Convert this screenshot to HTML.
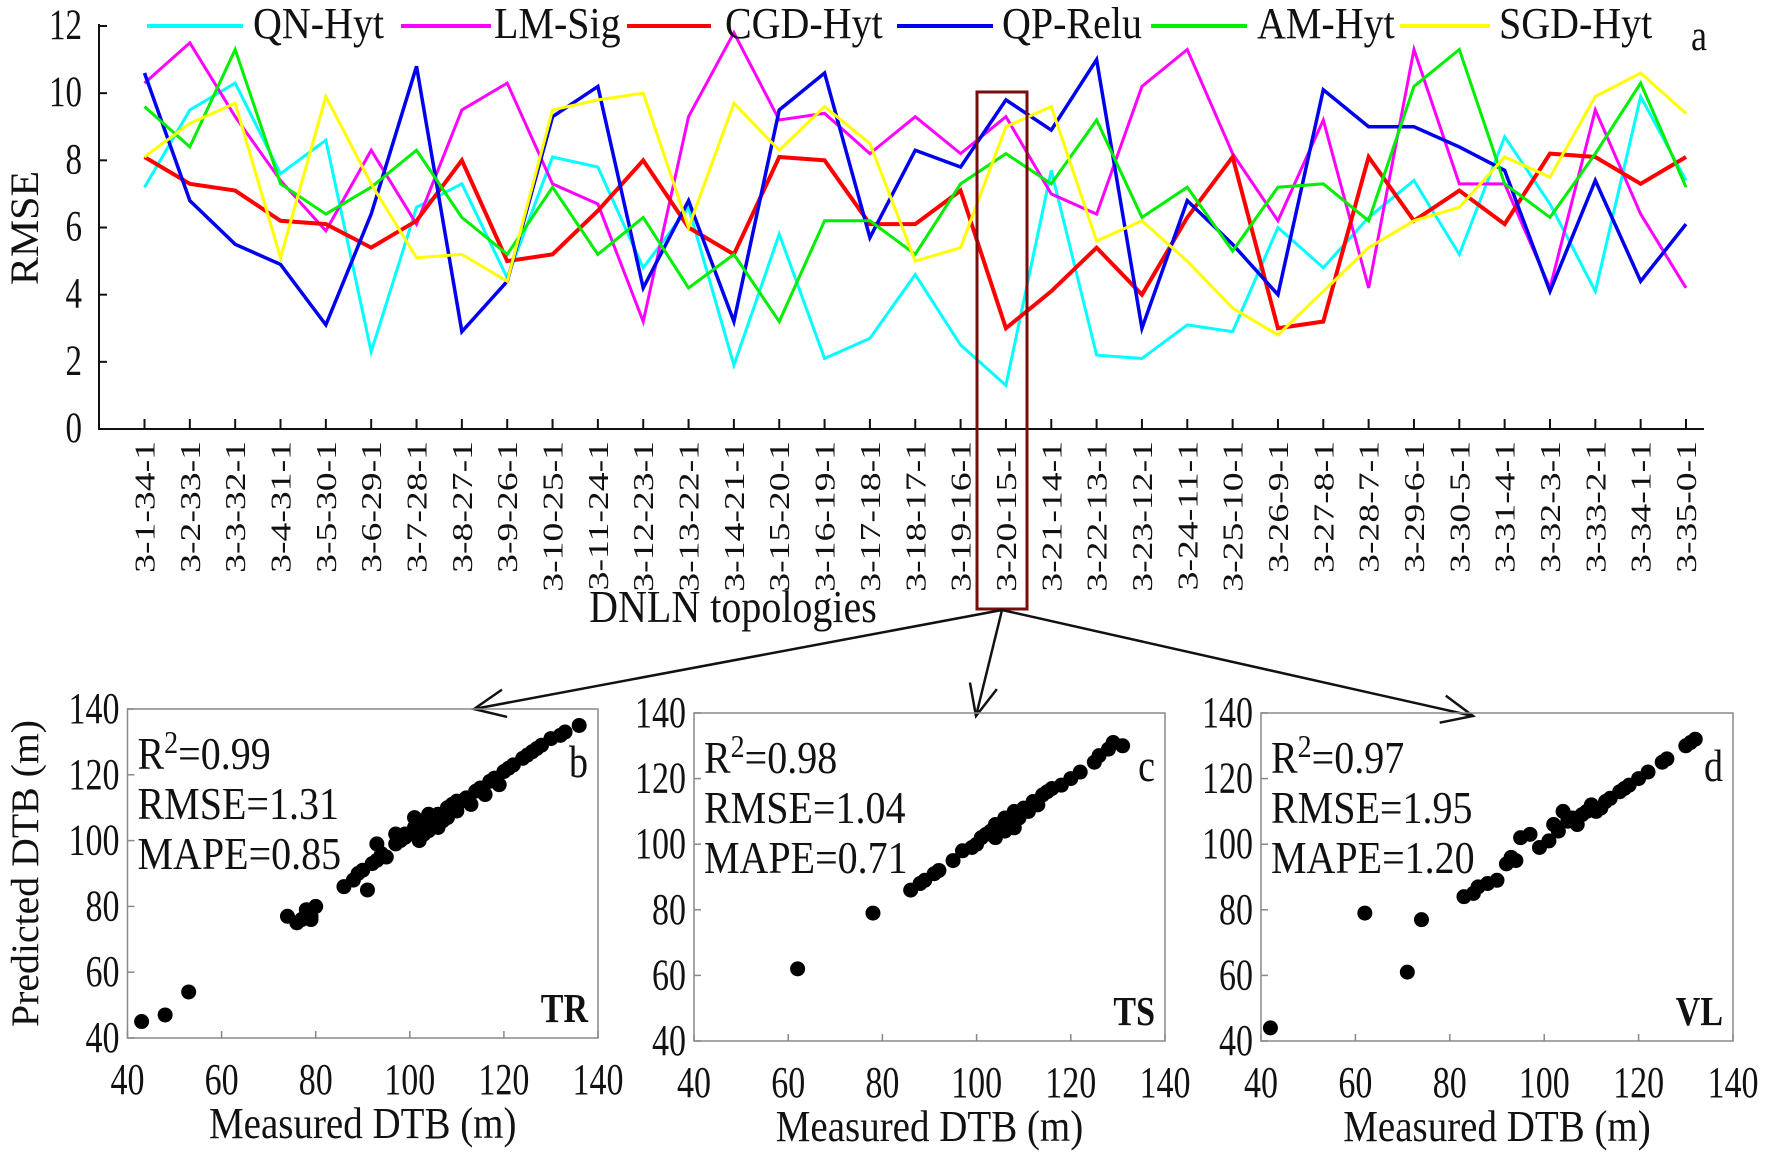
<!DOCTYPE html>
<html><head><meta charset="utf-8"><style>
html,body{margin:0;padding:0;background:#fff}
svg{display:block}
text{font-family:"Liberation Serif",serif;fill:#111}
</style></head><body>
<svg id="fig" width="1770" height="1161" viewBox="0 0 1770 1161" xmlns="http://www.w3.org/2000/svg">
<g id="topchart"></g>
<g id="sc"></g>
</svg>
<script>
const categories = ["3-1-34-1","3-2-33-1","3-3-32-1","3-4-31-1","3-5-30-1","3-6-29-1","3-7-28-1","3-8-27-1","3-9-26-1","3-10-25-1","3-11-24-1","3-12-23-1","3-13-22-1","3-14-21-1","3-15-20-1","3-16-19-1","3-17-18-1","3-18-17-1","3-19-16-1","3-20-15-1","3-21-14-1","3-22-13-1","3-23-12-1","3-24-11-1","3-25-10-1","3-26-9-1","3-27-8-1","3-28-7-1","3-29-6-1","3-30-5-1","3-31-4-1","3-32-3-1","3-33-2-1","3-34-1-1","3-35-0-1"];
const seriesNames = ["QN-Hyt","LM-Sig","CGD-Hyt","QP-Relu","AM-Hyt","SGD-Hyt"];
const qnHyt = [7.2,9.5,10.3,7.6,8.6,2.3,6.6,7.3,4.5,8.1,7.8,4.8,6.6,1.9,5.8,2.1,2.7,4.6,2.5,1.3,7.7,2.2,2.1,3.1,2.9,6.0,4.8,6.3,7.4,5.2,8.7,6.7,4.1,9.9,7.4];
const lmSig = [10.3,11.5,9.3,7.4,5.9,8.3,6.1,9.5,10.3,7.3,6.7,3.2,9.3,11.8,9.2,9.4,8.2,9.3,8.2,9.3,7.0,6.4,10.2,11.3,8.2,6.2,9.2,4.2,11.3,7.3,7.3,4.2,9.5,6.4,4.2];
const cgdHyt = [8.1,7.3,7.1,6.2,6.1,5.4,6.2,8.0,5.0,5.2,6.5,8.0,6.0,5.2,8.1,8.0,6.1,6.1,7.1,3.0,4.1,5.4,4.0,6.3,8.1,3.0,3.2,8.1,6.2,7.1,6.1,8.2,8.1,7.3,8.1];
const qpRelu = [10.6,6.8,5.5,4.9,3.1,6.4,10.8,2.9,4.4,9.3,10.2,4.2,6.8,3.2,9.5,10.6,5.7,8.3,7.8,9.8,8.9,11.0,3.0,6.8,5.5,4.0,10.1,9.0,9.0,8.4,7.7,4.1,7.4,4.4,6.1];
const amHyt = [9.6,8.4,11.3,7.3,6.4,7.2,8.3,6.3,5.2,7.2,5.2,6.3,4.2,5.2,3.2,6.2,6.2,5.2,7.3,8.2,7.3,9.2,6.3,7.2,5.3,7.2,7.3,6.2,10.2,11.3,7.3,6.3,8.2,10.3,7.2];
const sgdHyt = [8.1,9.1,9.7,5.1,9.9,7.3,5.1,5.2,4.4,9.5,9.8,10.0,6.0,9.7,8.3,9.6,8.5,5.0,5.4,9.0,9.6,5.6,6.2,5.0,3.6,2.8,4.1,5.4,6.2,6.6,8.1,7.5,9.9,10.6,9.4];
const yTicks = [0,2,4,6,8,10,12];
const scTicks = [40,60,80,100,120,140];
const trMeasured = [43,48,53,74,76,77,78,79,80,79,86,88,89,91,90,92,93,94,95,97,98,99,100,101,102,103,104,105,106,107,108,109,110,111,112,113,114,115,116,117,118,119,120,121,122,124,125,126,127,128,130,132,133,136,102,104,106,108,110,103,101,99,97,93];
const trPredicted = [45,47,54,77,75,76,79,76,80,77,86,88,90,85,91,93,94,96,95,99,100,102,102,104,105,106,103,107,108,106,110,111,109,112,113,111,115,116,114,118,119,117,121,122,123,125,126,127,128,129,131,132,133,135,100,108,104,107,112,102,107,101,102,99];
const tsMeasured = [62,78,86,88,89,91,92,95,97,99,100,101,102,103,104,105,106,107,108,109,110,111,112,113,114,115,116,118,120,122,125,126,128,129,131,104,106,108];
const tsPredicted = [62,79,86,88,89,91,92,95,98,99,100,102,103,104,106,105,108,107,110,108,111,110,113,112,115,116,117,118,120,122,125,127,129,131,130,102,104,105];
const vlMeasured = [42,62,71,74,83,85,86,88,90,92,93,94,95,97,99,101,102,103,104,105,106,107,108,109,110,111,112,113,114,116,117,118,120,122,125,126,130,131,132];
const vlPredicted = [44,79,61,77,84,85,87,88,89,94,96,95,102,103,99,101,106,104,110,107,108,106,109,110,112,110,111,113,114,116,117,118,120,122,125,126,130,131,132];

const NS="http://www.w3.org/2000/svg";
function mk(tag,parent,attrs){const e=document.createElementNS(NS,tag);for(const k in attrs)e.setAttribute(k,attrs[k]);parent.appendChild(e);return e;}
function txt(parent,x,y,str,size,anchor,sx,sy,rot,bold){
  const t=mk('text',parent,{x:0,y:0,'font-size':size,'text-anchor':anchor||'start',transform:`translate(${x},${y}) rotate(${rot||0}) scale(${sx||1},${sy||1})`});
  if(bold)t.setAttribute('font-weight','bold');
  t.textContent=str;return t;
}

const topG=document.getElementById('topchart');
const X0=144.5,X1=1686,Y0=429,Y12=26;
const xs=i=>X0+(X1-X0)*i/(categories.length-1);
const ys=v=>Y0+(Y12-Y0)*v/12;
const colors=["#00ffff","#ff00ff","#ff0000","#0000ee","#00ee00","#ffff00"];
const widths=[3,3,4,3.5,3,3];
const data=[qnHyt,lmSig,cgdHyt,qpRelu,amHyt,sgdHyt];
let ax=mk('path',topG,{d:`M99,${Y12-2} V${Y0} H1704`,stroke:'#111','stroke-width':2,fill:'none'});


yTicks.forEach(t=>{
  const l=mk('line',topG,{x1:99,x2:107,y1:ys(t),y2:ys(t),stroke:'#111','stroke-width':2});
  
  
  const tx=txt(topG,82,ys(t)+13,String(t),33,'end',1,1.3);
  
  
});
categories.forEach((c,i)=>{
  const l=mk('line',topG,{x1:xs(i),x2:xs(i),y1:Y0,y2:Y0-10,stroke:'#111','stroke-width':2});
  
  
  const tx=txt(topG,xs(i)+10,Y0+12,c,29,'end',1.3,1,-90);
  
  
});
let t1=txt(topG,38,228,'RMSE',40,'middle',1.05,1,-90);


let t2=txt(topG,733,622,'DNLN topologies',40,'middle',1,1.15);


data.forEach((arr,s)=>{
  const p=mk('polyline',topG,{points:arr.map((v,i)=>xs(i)+','+ys(v)).join(' '),fill:'none',stroke:colors[s],'stroke-width':widths[s]});
  
  
});
const legLine=[[147,243],[401,491],[627,711],[897,993],[1151,1247],[1400,1490]];
const legText=[253,494,725,1002,1257,1499];
seriesNames.forEach((n,s)=>{
  const g=mk('g',topG,{});
  
  
  mk('line',g,{x1:legLine[s][0],x2:legLine[s][1],y1:26,y2:26,stroke:colors[s],'stroke-width':4});
  txt(g,legText[s],38,n,40,'start',1,1.1);
});
let ta=txt(topG,1699,50,'a',36,'middle',1,1.2);


let hb=mk('rect',topG,{x:977,y:92,width:50,height:517,fill:'none',stroke:'#7a0c0c','stroke-width':3});


[[474,709],[976,716],[1473,716]].forEach(([tx_,ty_])=>{
  const sx=1002,sy=610;
  const a=mk('line',topG,{x1:sx,y1:sy,x2:tx_,y2:ty_,stroke:'#111','stroke-width':2.5});
  
  
  const ang=Math.atan2(ty_-sy,tx_-sx),L=34,w=0.42;
  const h=mk('path',topG,{d:`M${tx_-L*Math.cos(ang-w)},${ty_-L*Math.sin(ang-w)} L${tx_},${ty_} L${tx_-L*Math.cos(ang+w)},${ty_-L*Math.sin(ang+w)}`,fill:'none',stroke:'#111','stroke-width':2.5});
  
  
});

const sc=document.getElementById('sc');
const panels=[
 {l:127.5,r:598,t:709,b:1038,mx:trMeasured,py:trPredicted,stats:['0.99','1.31','0.85'],lab:'b',tag:'TR',ytitle:true},
 {l:694,r:1165,t:713,b:1041,mx:tsMeasured,py:tsPredicted,stats:['0.98','1.04','0.71'],lab:'c',tag:'TS'},
 {l:1261,r:1733,t:713,b:1041,mx:vlMeasured,py:vlPredicted,stats:['0.97','1.95','1.20'],lab:'d',tag:'VL'}];
panels.forEach((P,k)=>{
  const g=mk('g',sc,{});
  
  
  const sx=v=>P.l+(P.r-P.l)*(v-40)/100, sy=v=>P.b-(P.b-P.t)*(v-40)/100;
  mk('rect',g,{x:P.l,y:P.t,width:P.r-P.l,height:P.b-P.t,fill:'none',stroke:'#888','stroke-width':1.5});
  scTicks.forEach(t=>{
    mk('line',g,{x1:sx(t),x2:sx(t),y1:P.b,y2:P.b-7,stroke:'#888','stroke-width':1.5});
    mk('line',g,{x1:P.l,x2:P.l+7,y1:sy(t),y2:sy(t),stroke:'#888','stroke-width':1.5});
    const a=txt(g,sx(t),P.b+56,String(t),34,'middle',1,1.3);
    
    
    const b=txt(g,P.l-8,sy(t)+14,String(t),34,'end',1,1.3);
    
    
  });
  P.mx.forEach((m,i)=>{
    const c=mk('circle',g,{cx:sx(m),cy:sy(P.py[i]),r:7.5,fill:'#000'});
    
    
  });
  const cx=P.l+10;
  const r2=mk('text',g,{x:0,y:0,'font-size':40,transform:`translate(${cx},${P.t+60}) scale(1,1.15)`});
  const s1=mk('tspan',r2,{});s1.textContent='R';
  const s2=mk('tspan',r2,{dy:-14,'font-size':28});s2.textContent='2';
  const s3=mk('tspan',r2,{dy:14});s3.textContent='='+P.stats[0];
  txt(g,cx,P.t+110,'RMSE='+P.stats[1],40,'start',1,1.15);
  txt(g,cx,P.t+160,'MAPE='+P.stats[2],40,'start',1,1.15);
  txt(g,P.r-10,P.t+68,P.lab,38,'end',1,1.2);
  txt(g,P.r-10,P.b-16,P.tag,34,'end',1,1.2,0,true);
  const xt=txt(g,(P.l+P.r)/2,P.b+100,'Measured DTB (m)',39,'middle',1,1.15);
  
  
  if(P.ytitle){const yt=txt(g,38,(P.t+P.b)/2,'Predicted DTB (m)',39,'middle',1.02,1,-90);
  
  }
});
</script>
</body></html>
